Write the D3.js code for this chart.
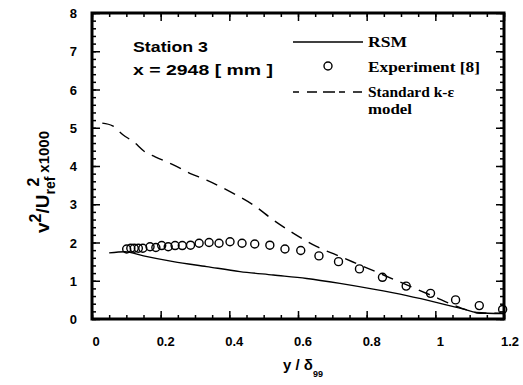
<!DOCTYPE html>
<html><head><meta charset="utf-8">
<script src="https://cdn.jsdelivr.net/npm/d3@7"></script>
<style>body{margin:0;background:#fff}svg{display:block}</style>
</head><body>
<svg id="c" width="523" height="385"></svg>
<script>
const expX = [0.101,0.113,0.123,0.135,0.148,0.169,0.186,0.203,0.222,0.242,0.263,0.287,0.312,0.341,0.370,0.402,0.437,0.474,0.518,0.562,0.608,0.661,0.718,0.779,0.846,0.915,0.986,1.059,1.128,1.196];
const expY = [1.83,1.85,1.85,1.85,1.85,1.89,1.87,1.92,1.89,1.92,1.92,1.93,1.98,2.00,1.98,2.02,1.98,1.96,1.93,1.83,1.79,1.65,1.50,1.31,1.09,0.86,0.67,0.50,0.35,0.25];
const rsmX = [0.05,0.096,0.15,0.237,0.334,0.431,0.528,0.625,0.722,0.819,0.917,1.014,1.082,1.12,1.198];
const rsmY = [1.73,1.76,1.65,1.50,1.37,1.24,1.15,1.06,0.93,0.78,0.61,0.41,0.26,0.17,0.14];
const keX = [0.03,0.06,0.091,0.12,0.154,0.184,0.237,0.285,0.334,0.402,0.47,0.528,0.587,0.655,0.713,0.781,0.849,0.917,0.985,1.052,1.091,1.13,1.198];
const keY = [5.12,5.05,4.81,4.64,4.37,4.24,4.03,3.81,3.63,3.33,2.98,2.59,2.24,1.89,1.67,1.41,1.15,0.89,0.63,0.37,0.24,0.15,0.15];
const xTicks = [0,0.2,0.4,0.6,0.8,1,1.2];
const xTickLabels = ["0","0.2","0.4","0.6","0.8","1","1.2"];
const yTicks = [0,1,2,3,4,5,6,7,8];
const legendLabels = ["RSM","Experiment [8]","Standard k-\u03B5","model"];

const svg = d3.select("#c");
const L=92, R=504, T=13, B=319;
const x = d3.scaleLinear().domain([0,1.2]).range([L,R]);
const y = d3.scaleLinear().domain([0,8]).range([B,T]);
const ink = "#000";

// series first
const lineGen = d3.line().x(d=>x(d[0])).y(d=>y(d[1])).curve(d3.curveMonotoneX);
svg.append("path").datum(rsmX.map((v,i)=>[v,rsmY[i]])).attr("d",lineGen)
  .attr("fill","none").attr("stroke",ink).attr("stroke-width",1.4);
svg.append("path").datum(keX.map((v,i)=>[v,keY[i]])).attr("d",lineGen)
  .attr("fill","none").attr("stroke",ink).attr("stroke-width",1.4).attr("stroke-dasharray","12,8");
svg.append("g").selectAll("circle").data(expX.map((v,i)=>[v,expY[i]])).join("circle")
  .attr("cx",d=>x(d[0])).attr("cy",d=>y(d[1])).attr("r",4)
  .attr("fill","none").attr("stroke",ink).attr("stroke-width",1.4);

// frame (drawn after the data)
svg.append("rect").attr("x",x(0)).attr("y",y(8)).attr("width",x(1.2)-x(0)).attr("height",y(0)-y(8))
  .attr("fill","none").attr("stroke","#000").attr("stroke-width",3);

// ticks via d3 axes (inward)
const xMinor = d3.range(0,25).map(i=>i*0.05);
const yMinor = d3.range(0,41).map(i=>i*0.2);
function mk(gen, tx, ty){ const g=svg.append("g").attr("transform",`translate(${tx},${ty})`).call(gen);
  g.select(".domain").remove(); g.selectAll("text").remove();
  g.selectAll("line").attr("stroke","#000").attr("stroke-width",1.5); return g; }
mk(d3.axisBottom(x).tickValues(xMinor).tickSize(-4),0,B);
mk(d3.axisBottom(x).tickValues(xTicks).tickSize(-8),0,B);
mk(d3.axisTop(x).tickValues(xMinor).tickSize(-4),0,T);
mk(d3.axisTop(x).tickValues(xTicks).tickSize(-8),0,T);
mk(d3.axisLeft(y).tickValues(yMinor).tickSize(-4),L,0);
mk(d3.axisLeft(y).tickValues(yTicks).tickSize(-8),L,0);
mk(d3.axisRight(y).tickValues(yMinor).tickSize(-4),R,0);
mk(d3.axisRight(y).tickValues(yTicks).tickSize(-8),R,0);

// tick labels
const lblFont = "Liberation Sans, Arial, sans-serif";
svg.append("g").selectAll("text").data(xTicks).join("text")
  .attr("x",(d,i)=>x(d)+ (i===0?4:(i===6?6:5))).attr("y",346)
  .attr("text-anchor","middle").attr("font-family",lblFont).attr("font-weight","bold")
  .attr("font-size",13).attr("fill",ink).text((d,i)=>xTickLabels[i]);
svg.append("g").selectAll("text").data(yTicks).join("text")
  .attr("x",77).attr("y",d=>y(d)+5).attr("text-anchor","end")
  .attr("font-family",lblFont).attr("font-weight","bold").attr("font-size",13)
  .attr("fill",ink).text(d=>d);

// annotation
const ann = svg.append("g").attr("font-family",lblFont).attr("font-weight","bold").attr("fill",ink).attr("font-size",14);
ann.append("text").attr("x",133).attr("y",52).attr("textLength",75).attr("lengthAdjust","spacingAndGlyphs").text("Station 3");
ann.append("text").attr("x",133).attr("y",75).attr("textLength",140).attr("lengthAdjust","spacingAndGlyphs").text("x = 2948  [ mm ]");

// legend
const serif = "Liberation Serif, Times New Roman, serif";
svg.append("line").attr("x1",293).attr("x2",363).attr("y1",42).attr("y2",42).attr("stroke",ink).attr("stroke-width",1.4);
svg.append("circle").attr("cx",328).attr("cy",66).attr("r",4).attr("fill","none").attr("stroke",ink).attr("stroke-width",1.4);
svg.append("line").attr("x1",293).attr("x2",362).attr("y1",92).attr("y2",92).attr("stroke",ink).attr("stroke-width",1.4).attr("stroke-dasharray","6,8,10,6,12,4");
const lg = svg.append("g").attr("font-family",serif).attr("font-weight","bold").attr("fill",ink).attr("font-size",14);
const lx=368, ly=[47,72,97,114], lw=[39,112,86,44];
legendLabels.forEach((t,i)=>lg.append("text").attr("x",lx).attr("y",ly[i]).attr("textLength",lw[i]).attr("lengthAdjust","spacingAndGlyphs").text(t));

// y title
const yt = svg.append("text").attr("transform","translate(49,233) rotate(-90)")
  .attr("font-family",lblFont).attr("font-weight","bold").attr("font-size",19).attr("fill",ink);
yt.append("tspan").text("v");
yt.append("tspan").attr("dy",-8).attr("font-size",16).text("2");
yt.append("tspan").attr("dy",8).text("/U");
yt.append("tspan").attr("dy",6).attr("font-size",14).text("ref");
yt.append("tspan").attr("dy",-16).attr("dx",-10).attr("font-size",16).text("2");
yt.append("tspan").attr("dy",10).attr("dx",5).attr("font-size",15).text("x1000");

// x title
const xt = svg.append("text").attr("x",283).attr("y",370)
  .attr("font-family",lblFont).attr("font-weight","bold").attr("font-size",15).attr("fill",ink);
xt.append("tspan").text("y / \u03B4");
xt.append("tspan").attr("dy",7).attr("font-size",9).text("99");
</script>
</body></html>
